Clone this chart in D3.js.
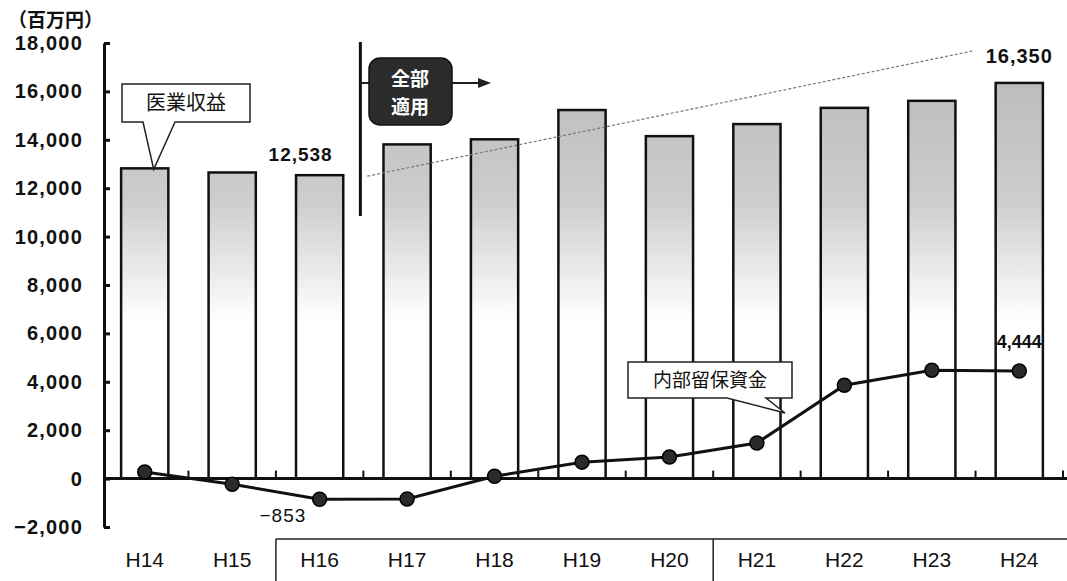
<!DOCTYPE html>
<html>
<head>
<meta charset="utf-8">
<script src="https://cdn.jsdelivr.net/npm/d3@7/dist/d3.min.js"></script>
<style>
  html, body { margin: 0; padding: 0; background: #fff; }
  svg { display: block; }
  text { font-family: "Liberation Sans", Arial, "Noto Sans CJK JP", sans-serif; fill: #111; }
  .jp { font-family: "Noto Sans CJK JP", "Noto Sans CJK SC", sans-serif; }
</style>
</head>
<body>
<svg id="chart" width="1067" height="581"></svg>
<script>
// ---- data ----
const categories = ["H14","H15","H16","H17","H18","H19","H20","H21","H22","H23","H24"];
const revenue = [12820, 12650, 12538, 13810, 14020, 15230, 14150, 14650, 15320, 15610, 16350]; // 医業収益
const reserves = [270, -230, -853, -840, 100, 680, 890, 1470, 3860, 4480, 4444];            // 内部留保資金
const yTicks = [-2000, 0, 2000, 4000, 6000, 8000, 10000, 12000, 14000, 16000, 18000];
const unitLabel = "（百万円）";
const revenueName = "医業収益";
const reservesName = "内部留保資金";
const phaseLabel = ["全部", "適用"];
const valueLabels = [
  { cat: "H16", value: 12538, text: "12,538" },
  { cat: "H24", value: 16350, text: "16,350" },
  { cat: "H16", value: -853, text: "−853" },
  { cat: "H24", value: 4444, text: "4,444" }
];

// ---- setup ----
const svg = d3.select("#chart");
const W = 1067, H = 581;

const x = d3.scaleBand().domain(categories).range([101, 1063]).paddingInner(0.46).paddingOuter(0.23);
const y = d3.scaleLinear().domain([-2000, 18000]).range([527, 43]);
const step = x.step(), bw = x.bandwidth();
const cx = c => x(c) + bw / 2;
const leftEdge = c => x(c) - step * x.paddingInner() / 2;

// gradient for bars
const defs = svg.append("defs");
const grad = defs.append("linearGradient").attr("id", "barGrad")
  .attr("gradientUnits", "userSpaceOnUse").attr("x1", 0).attr("x2", 0)
  .attr("y1", y(16500)).attr("y2", y(6500));
grad.append("stop").attr("offset", "0%").attr("stop-color", "#bcbcbc");
grad.append("stop").attr("offset", "50%").attr("stop-color", "#cdcdcd");
grad.append("stop").attr("offset", "100%").attr("stop-color", "#ffffff");

// ---- bars ----
svg.append("g").selectAll("rect").data(categories).join("rect")
  .attr("x", c => x(c))
  .attr("y", (c, i) => y(revenue[i]))
  .attr("width", bw)
  .attr("height", (c, i) => y(0) - y(revenue[i]))
  .attr("fill", "url(#barGrad)")
  .attr("stroke", "#111")
  .attr("stroke-width", 2.5);

// ---- y axis ----
const yAxis = d3.axisLeft(y).tickValues(yTicks).tickSizeInner(-6).tickSizeOuter(0).tickPadding(21)
  .tickFormat(d3.format(","));
const gy = svg.append("g").attr("transform", "translate(104,0)").call(yAxis);
gy.select(".domain").attr("stroke", "#111").attr("stroke-width", 3);
gy.selectAll(".tick line").attr("stroke", "#111").attr("stroke-width", 3);
gy.selectAll(".tick text").attr("font-size", 20).attr("font-weight", "bold")
  .attr("letter-spacing", 1.2).attr("fill", "#111")
  .style("font-family", "'Liberation Sans', Arial, sans-serif");

// zero line
svg.append("line").attr("x1", 104).attr("x2", W).attr("y1", y(0)).attr("y2", y(0))
  .attr("stroke", "#111").attr("stroke-width", 3);
// boundary ticks on zero line
svg.append("g").selectAll("line").data(categories.slice(1).concat(["END"])).join("line")
  .attr("x1", c => c === "END" ? x("H24") + bw + step * x.paddingInner() / 2 : leftEdge(c))
  .attr("x2", c => c === "END" ? x("H24") + bw + step * x.paddingInner() / 2 : leftEdge(c))
  .attr("y1", y(0)).attr("y2", y(0) - 8)
  .attr("stroke", "#111").attr("stroke-width", 2);

// ---- x labels ----
const xAxis = d3.axisBottom(x).tickSize(0).tickPadding(0);
const gx = svg.append("g").attr("transform", "translate(0,548)").call(xAxis);
gx.select(".domain").remove();
gx.selectAll(".tick text").attr("font-size", 21).attr("dy", "0.9em").attr("fill", "#111")
  .style("font-family", "'Liberation Sans', Arial, sans-serif");

// frame under labels
const fy = 539;
svg.append("line").attr("x1", leftEdge("H16")).attr("x2", W).attr("y1", fy).attr("y2", fy)
  .attr("stroke", "#222").attr("stroke-width", 1.5);
["H16", "H21"].forEach(c => {
  svg.append("line").attr("x1", leftEdge(c)).attr("x2", leftEdge(c)).attr("y1", fy).attr("y2", H)
    .attr("stroke", "#222").attr("stroke-width", 1.5);
});

// ---- reserves line ----
const line = d3.line().x((d, i) => cx(categories[i])).y(d => y(d));
svg.append("path").datum(reserves).attr("d", line)
  .attr("fill", "none").attr("stroke", "#111").attr("stroke-width", 3);
svg.append("g").selectAll("circle").data(reserves).join("circle")
  .attr("cx", (d, i) => cx(categories[i])).attr("cy", d => y(d)).attr("r", 7)
  .attr("fill", "#2a2a2a").attr("stroke", "#000").attr("stroke-width", 1.5);

// ---- unit label ----
svg.append("text").attr("class", "jp").attr("x", 8).attr("y", 27)
  .attr("font-size", 19).attr("font-weight", "bold").text(unitLabel);

// ---- value labels ----
const vl = svg.append("g");
vl.append("text").attr("x", cx("H16") - 19).attr("y", 161).attr("text-anchor", "middle")
  .attr("font-size", 19).attr("font-weight", "bold").attr("letter-spacing", 1).text(valueLabels[0].text);
vl.append("text").attr("x", cx("H24")).attr("y", 63).attr("text-anchor", "middle")
  .attr("font-size", 20).attr("font-weight", "bold").attr("letter-spacing", 1).text(valueLabels[1].text);
vl.append("text").attr("x", leftEdge("H16") + 7).attr("y", 522).attr("text-anchor", "middle")
  .attr("font-size", 19).attr("letter-spacing", 1).text(valueLabels[2].text);
vl.append("text").attr("x", cx("H24")).attr("y", 348).attr("text-anchor", "middle")
  .attr("font-size", 18).attr("font-weight", "bold").text(valueLabels[3].text);

// ---- dashed trend line ----
svg.append("line")
  .attr("x1", x("H16") + bw + 24).attr("y1", y(12538) + 1)
  .attr("x2", cx("H24") - 47).attr("y2", 51)
  .attr("stroke", "#777").attr("stroke-width", 1.2).attr("stroke-dasharray", "3,2");

// ---- 全部適用 marker ----
const bx = leftEdge("H17") - 3;
svg.append("line").attr("x1", bx).attr("x2", bx).attr("y1", 42).attr("y2", 216)
  .attr("stroke", "#111").attr("stroke-width", 3);
svg.append("line").attr("x1", bx).attr("x2", 478).attr("y1", 83).attr("y2", 83)
  .attr("stroke", "#222").attr("stroke-width", 2);
svg.append("path").attr("d", `M478,78 L491,83 L478,88 Z`).attr("fill", "#222");
svg.append("rect").attr("x", 369).attr("y", 58).attr("width", 83).attr("height", 67).attr("rx", 11)
  .attr("fill", "#2b2b2b").attr("stroke", "#111").attr("stroke-width", 1.5);
phaseLabel.forEach((t, i) => {
  svg.append("text").attr("class", "jp").attr("x", 410).attr("y", 86 + i * 28)
    .attr("text-anchor", "middle").attr("font-size", 19).attr("font-weight", "bold")
    .style("fill", "#fff").text(t);
});

// ---- callouts ----
function callout(bx0, by0, bw0, bh0, p1, p2, tip, label, fs) {
  const g = svg.append("g");
  const d = `M${bx0},${by0} H${bx0 + bw0} V${by0 + bh0} H${p2} L${tip[0]},${tip[1]} L${p1},${by0 + bh0} H${bx0} Z`;
  g.append("path").attr("d", d).attr("fill", "#fff").attr("stroke", "#222").attr("stroke-width", 1.5);
  g.append("text").attr("class", "jp").attr("x", bx0 + bw0 / 2).attr("y", by0 + bh0 / 2 + fs * 0.36)
    .attr("text-anchor", "middle").attr("font-size", fs).text(label);
}
callout(122, 84, 128, 38, 143, 175, [cx("H14") + 9, y(revenue[0]) + 1], revenueName, 20);
callout(628, 362, 164, 36, 727, 766, [785, 413], reservesName, 19);
</script>
</body>
</html>
